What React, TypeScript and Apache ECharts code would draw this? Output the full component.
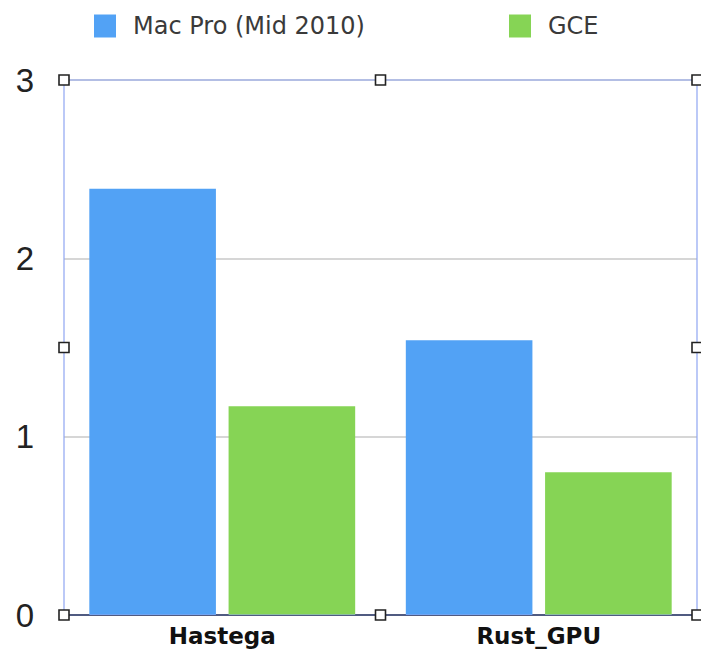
import React, { useEffect, useRef } from "react";
import * as echarts from "echarts";

const categories = ["Hastega", "Rust_GPU"];
const seriesNames = ["Mac Pro (Mid 2010)", "GCE"];
const macPro = [2.39, 1.54];
const gce = [1.17, 0.8];
const colors = ["#52a2f5", "#86d455"];
const yTicks = { min: 0, max: 3, interval: 1 };

export default function App() {
  const ref = useRef<HTMLDivElement>(null);
  useEffect(() => {
    const chart = echarts.init(ref.current!, null, { renderer: "svg" });
    const L = 64, R = 697, T = 80, B = 615;
    const mx = (L + R) / 2, my = (T + B) / 2;
    const handles = [
      [L, T], [mx, T], [R, T],
      [L, my], [R, my],
      [L, B], [mx, B], [R, B],
    ].map(([x, y]) => ({
      type: "rect",
      shape: { x: x - 5, y: y - 5, width: 10, height: 10 },
      style: { fill: "#fff", stroke: "#222", lineWidth: 1.6 },
      z: 100,
    }));
    const legendText = {
      fontSize: 24,
      color: "#3a3a3a",
      fontFamily: "'DejaVu Sans', sans-serif",
      padding: [0, 0, 0, 12],
    };
    const legendBase = {
      top: 14,
      padding: 0,
      itemWidth: 22,
      itemHeight: 23,
      icon: "rect",
      textStyle: legendText,
    };
    chart.setOption({
      animation: false,
      legend: [
        { ...legendBase, left: 94, data: [seriesNames[0]] },
        { ...legendBase, left: 509, data: [seriesNames[1]] },
      ],
      grid: { left: L, right: 701 - R, top: T, bottom: 651 - B, containLabel: false },
      xAxis: {
        type: "category",
        data: categories,
        axisLine: { show: true, lineStyle: { color: "#111", width: 2 } },
        axisTick: { show: false },
        axisLabel: {
          fontSize: 23,
          fontWeight: "bold",
          color: "#111",
          margin: 9,
          fontFamily: "'DejaVu Sans', sans-serif",
        },
      },
      yAxis: {
        type: "value",
        min: yTicks.min,
        max: yTicks.max,
        interval: yTicks.interval,
        axisLine: { show: false },
        axisTick: { show: false },
        axisLabel: {
          fontSize: 33,
          color: "#222",
          margin: 30,
          fontFamily: "'Liberation Sans', sans-serif",
        },
        splitLine: { show: true, lineStyle: { color: "#c8c8c8", width: 1.5 } },
      },
      series: [
        {
          name: seriesNames[0],
          type: "bar",
          data: macPro,
          itemStyle: { color: colors[0] },
          barGap: "10%",
          barCategoryGap: "16%",
        },
        {
          name: seriesNames[1],
          type: "bar",
          data: gce,
          itemStyle: { color: colors[1] },
        },
      ],
      graphic: [
        {
          type: "rect",
          shape: { x: L, y: T, width: R - L, height: B - T },
          style: { fill: "none", stroke: "#8fa6f2", lineWidth: 1.2 },
          z: 99,
        },
        ...handles,
      ],
    });
    return () => chart.dispose();
  }, []);
  return (
    <div
      ref={ref}
      style={{ position: "absolute", left: 0, top: 0, width: 701, height: 651, background: "#fff" }}
    />
  );
}
